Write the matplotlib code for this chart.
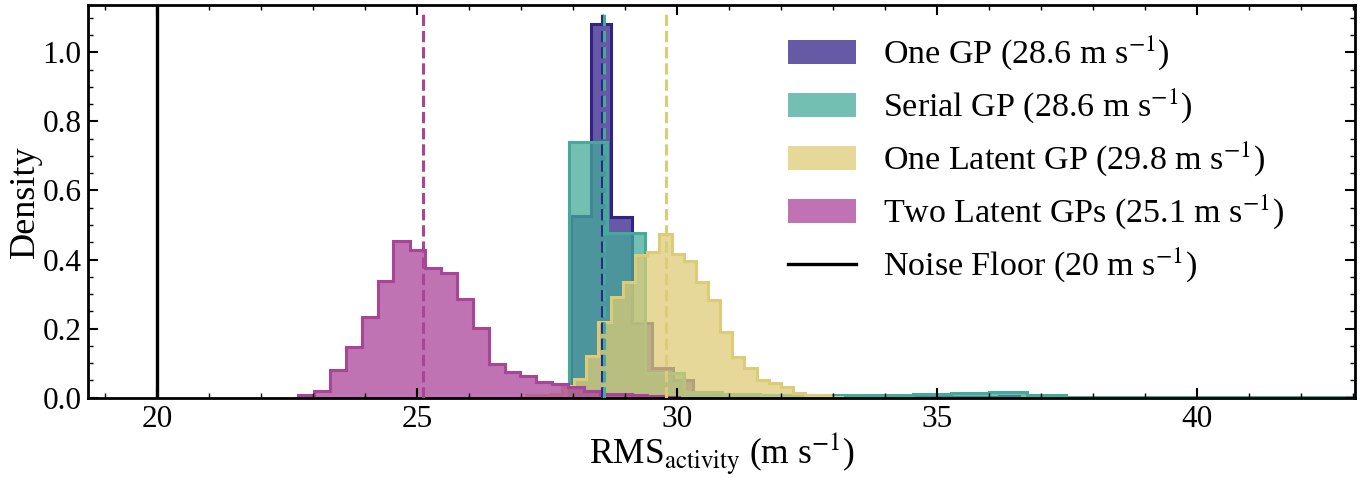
import matplotlib
matplotlib.use("Agg")
import matplotlib.pyplot as plt
from matplotlib.ticker import MultipleLocator, FormatStrFormatter

plt.rcParams['font.family'] = ['Liberation Serif', 'DejaVu Serif']
plt.rcParams['mathtext.fontset'] = 'stix'

# ---------------- data ----------------
names = ["One GP", "Serial GP", "One Latent GP", "Two Latent GPs"]
colors = ["#332288", "#44AA99", "#DDCC77", "#AA4499"]
medians = [28.56, 28.60, 29.79, 25.11]
noise_floor = 20

one_gp_edges = [27.96, 28.35, 28.74, 29.13, 29.52, 29.92, 30.31, 30.70, 31.09,
                31.48, 31.88, 32.27, 32.66, 33.05, 33.44, 33.84, 34.23, 34.62,
                35.01, 35.40, 35.80, 36.19, 36.58]
one_gp_dens = [0.526, 1.082, 0.522, 0.217, 0.085, 0.051, 0.017, 0.012, 0.004,
               0.003, 0.002, 0.001, 0.001, 0.001, 0.000, 0.000, 0.001, 0.001,
               0.001, 0.001, 0.003, 0.006]

serial_edges = [27.92, 28.66, 29.39, 30.13, 30.86, 31.60, 32.33, 33.07, 33.80,
                34.54, 35.27, 36.01, 36.74, 37.48, 38.21, 38.95, 39.68, 40.42,
                41.15, 41.89, 42.62, 43.36]
serial_dens = [0.741, 0.476, 0.071, 0.017, 0.012, 0.009, 0.008, 0.008, 0.008,
               0.010, 0.013, 0.017, 0.007, 0.002, 0.001, 0.001, 0.001, 0.001,
               0.001, 0.001, 0.001]

latent1_edges = [27.09, 27.32, 27.56, 27.79, 28.03, 28.26, 28.49, 28.73, 28.96,
                 29.20, 29.43, 29.66, 29.90, 30.13, 30.37, 30.60, 30.83, 31.07,
                 31.30, 31.54, 31.77, 32.00, 32.24, 32.47, 32.71, 32.94, 33.17]
latent1_dens = [0.008, 0.008, 0.012, 0.035, 0.053, 0.120, 0.220, 0.292, 0.336,
                0.413, 0.423, 0.474, 0.415, 0.397, 0.336, 0.283, 0.191, 0.119,
                0.085, 0.051, 0.042, 0.032, 0.013, 0.009, 0.009, 0.003]

latent2_edges = [22.72, 23.03, 23.33, 23.64, 23.94, 24.25, 24.55, 24.86, 25.16,
                 25.47, 25.77, 26.08, 26.38, 26.69, 26.99, 27.30, 27.60, 27.91,
                 28.21, 28.52, 28.82, 29.13, 29.43, 29.74, 30.04]
latent2_dens = [0.008, 0.018, 0.080, 0.146, 0.233, 0.337, 0.453, 0.427, 0.374,
                0.361, 0.287, 0.201, 0.098, 0.074, 0.064, 0.045, 0.040, 0.030,
                0.020, 0.012, 0.010, 0.008, 0.005, 0.003]

all_edges = [one_gp_edges, serial_edges, latent1_edges, latent2_edges]
all_dens = [one_gp_dens, serial_dens, latent1_dens, latent2_dens]

# ---------------- figure ----------------
fig = plt.figure(figsize=(13.69, 4.78), dpi=100)
ax = fig.add_axes([0.0645, 0.168, 0.9255, 0.821])

for name, col, med, edges, dens in zip(names, colors, medians, all_edges, all_dens):
    ax.stairs(dens, edges, fill=True, color=col, alpha=0.75, linewidth=0,
              label=f"{name} ({med:.1f} m s$^{{-1}}$)")
    ax.stairs(dens, edges, fill=False, color=col, linewidth=2.2)

for col, med in zip(colors, medians):
    ax.axvline(med, ymax=0.98, color=col, linestyle="--", linewidth=2.2, zorder=5)

ax.axvline(noise_floor, color="black", linewidth=2.4,
           label=f"Noise Floor ({noise_floor} m s$^{{-1}}$)")

ax.set_xlim(18.68, 43.05)
ax.set_ylim(0, 1.136)

ax.xaxis.set_major_locator(MultipleLocator(5))
ax.xaxis.set_minor_locator(MultipleLocator(1))
ax.yaxis.set_major_locator(MultipleLocator(0.2))
ax.yaxis.set_minor_locator(MultipleLocator(0.05))
ax.yaxis.set_major_formatter(FormatStrFormatter("%.1f"))

ax.tick_params(which="both", direction="in", top=True, right=True)
ax.tick_params(which="major", length=7.5, width=1.5, labelsize=22.5, pad=5)
ax.tick_params(which="minor", length=3.8, width=1.0)
for s in ax.spines.values():
    s.set_linewidth(2.0)

ax.set_xlabel(r"RMS$_{\rm activity}$ (m s$^{-1}$)", fontsize=25.5, labelpad=-1.5)
ax.set_ylabel("Density", fontsize=26, labelpad=0)

ax.legend(loc="upper left", bbox_to_anchor=(0.552, 0.927), frameon=False,
          fontsize=24.5, borderpad=0, borderaxespad=0, handlelength=2.0,
          handleheight=0.7, handletextpad=0.8, labelspacing=0.4)

fig.savefig("out.png", dpi=100)
